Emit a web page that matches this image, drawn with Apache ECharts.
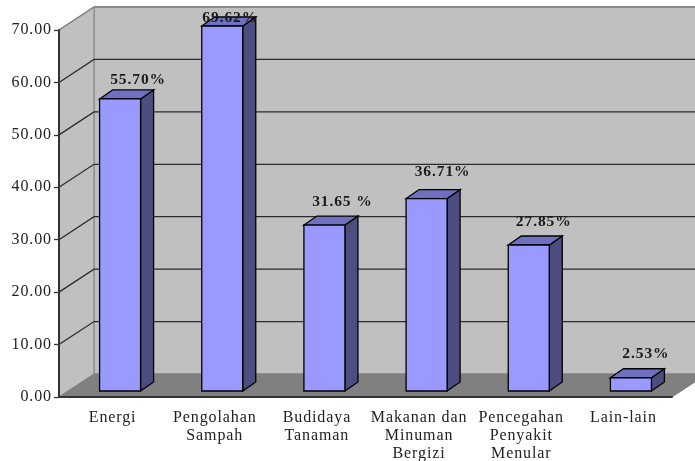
<!DOCTYPE html>
<html>
<head>
<meta charset="utf-8">
<script src="https://cdn.jsdelivr.net/npm/echarts@6/dist/echarts.min.js"></script>
<style>
  html, body { margin: 0; padding: 0; background: #fff; }
  #chart { width: 695px; height: 461px; }
</style>
</head>
<body>
<div id="chart"></div>
<script>
var categories = ['Energi', 'Pengolahan\nSampah', 'Budidaya\nTanaman', 'Makanan dan\nMinuman\nBergizi', 'Pencegahan\nPenyakit\nMenular', 'Lain-lain']
var percentValues = [55.70, 69.62, 31.65, 36.71, 27.85, 2.53]
var valueLabels = ['55.70%', '69.62%', '31.65 %', '36.71%', '27.85%', '2.53%']
var yTicks = [10, 20, 30, 40, 50, 60, 70]

// fake 3d: how far the back wall and the bars are pushed
var wallDx = 35, wallDy = -23
var barDx = 13, barDy = -9, barWidth = 41
var barShiftX = 10, barShiftY = -6
var labelNudge = [[5, -19], [-5, -8], [5, -23], [3, -27], [2, -23], [2, -24]]
var serif = '"Liberation Serif", serif'

// the picture's text is spaced wider than the font, echarts has no option for it
var getContext = HTMLCanvasElement.prototype.getContext
HTMLCanvasElement.prototype.getContext = function () {
  var ctx = getContext.apply(this, arguments)
  if (ctx && 'letterSpacing' in ctx) ctx.letterSpacing = '0.9px'
  return ctx
}

function poly(points, fill, stroke, lineWidth) {
  return {
    type: 'polygon',
    shape: { points: points },
    style: { fill: fill, stroke: stroke, lineWidth: lineWidth || 0 }
  }
}

function renderWalls(params, api) {
  var o = api.coord([0, 0]), top = api.coord([0, 70])
  var g = params.coordSys
  var right = g.x + g.width
  var left = g.x, y0 = o[1], y1 = top[1]
  return {
    type: 'group',
    children: [
      poly([[left + wallDx, y1 + wallDy], [right + wallDx, y1 + wallDy], [right + wallDx, y0 + wallDy], [left + wallDx, y0 + wallDy]], '#c0c0c0', '#808080', 1),
      poly([[left, y1], [left + wallDx, y1 + wallDy], [left + wallDx, y0 + wallDy], [left, y0]], '#c0c0c0', '#808080', 1),
      poly([[left, y0], [left + wallDx, y0 + wallDy], [right + wallDx, y0 + wallDy], [right, y0]], '#808080', '#808080', 1)
    ]
  }
}

function renderGridLine(params, api) {
  var p = api.coord([0, api.value(0)])
  var g = params.coordSys
  var isTop = api.value(0) === 70
  return {
    type: 'polyline',
    shape: { points: [[g.x, p[1]], [g.x + wallDx, p[1] + wallDy], [g.x + g.width + wallDx, p[1] + wallDy]] },
    style: { fill: 'none', stroke: isTop ? '#808080' : '#2b2b2b', lineWidth: 1.3 }
  }
}

function renderBar(params, api) {
  var i = api.value(0)
  var base = api.coord([i, 0]), head = api.coord([i, api.value(1)])
  var x0 = base[0] + barShiftX - barWidth / 2, x1 = x0 + barWidth
  var y0 = base[1] + barShiftY, y1 = head[1] + barShiftY
  var nudge = labelNudge[i]
  return {
    type: 'group',
    children: [
      poly([[x1, y1], [x1 + barDx, y1 + barDy], [x1 + barDx, y0 + barDy], [x1, y0]], '#4d4d80', '#000', 1.3),
      poly([[x0, y1], [x0 + barDx, y1 + barDy], [x1 + barDx, y1 + barDy], [x1, y1]], '#7070c0', '#000', 1.3),
      poly([[x0, y1], [x1, y1], [x1, y0], [x0, y0]], '#9999ff', '#000', 1.3),
      {
        type: 'text',
        z2: 10,
        style: {
          text: valueLabels[i],
          x: (x0 + x1) / 2 + barDx + nudge[0],
          y: y1 + nudge[1],
          align: 'center',
          verticalAlign: 'middle',
          font: 'bold 15.5px ' + serif,
          fill: '#1a1a1a'
        }
      }
    ]
  }
}

var myChart = echarts.init(document.getElementById('chart'))
var option = {
  backgroundColor: '#fff',
  animation: false,
  grid: { left: 59, right: 23, top: 30, bottom: 64, outerBoundsMode: 'none' },
  xAxis: {
    type: 'category',
    data: categories,
    z: 5,
    axisLine: { lineStyle: { color: '#333', width: 2 } },
    axisTick: { length: 5, lineStyle: { color: '#333', width: 1.3 } },
    axisLabel: {
      color: '#222',
      fontFamily: serif,
      fontSize: 16,
      lineHeight: 18,
      margin: 12,
      padding: [0, 0, 0, 5],
      interval: 0
    }
  },
  yAxis: {
    type: 'value',
    min: 0,
    max: 70,
    interval: 10,
    z: 5,
    splitLine: { show: false },
    axisLine: { show: true, lineStyle: { color: '#333', width: 2 } },
    axisTick: { show: true, length: 5, lineStyle: { color: '#333', width: 1.3 } },
    axisLabel: {
      color: '#222',
      fontFamily: serif,
      fontSize: 16,
      margin: 7,
      padding: [3, 0, 0, 0],
      formatter: function (v) { return v.toFixed(2) }
    }
  },
  series: [
    { type: 'custom', z: 1, clip: false, renderItem: renderWalls, data: [[0]], silent: true },
    { type: 'custom', z: 2, clip: false, renderItem: renderGridLine, data: yTicks.map(function (t) { return [t] }), silent: true },
    {
      type: 'custom',
      z: 3,
      clip: false,
      renderItem: renderBar,
      encode: { x: 0, y: 1 },
      data: percentValues.map(function (v, i) { return [i, v] })
    }
  ]
}
myChart.setOption(option)
</script>
</body>
</html>
